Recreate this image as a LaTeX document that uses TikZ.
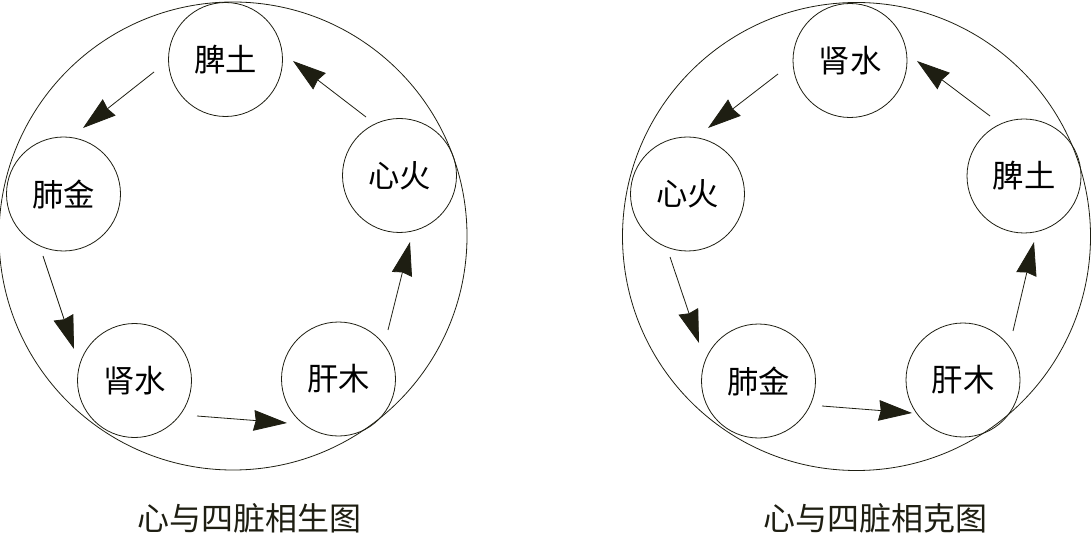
\documentclass[tikz,border=0pt]{standalone}
\usepackage{fontspec}
\setmainfont{Noto Sans CJK SC}
\usetikzlibrary{arrows.meta}
\definecolor{ink}{HTML}{1E1E12}
\tikzset{
  big/.style={draw=ink, line width=0.6pt, circle, minimum size=468*0.75pt, inner sep=0pt},
  organ/.style={draw=ink, line width=0.6pt, circle, minimum size=114*0.75pt, inner sep=0pt, font=\fontsize{23.5}{23.5}\selectfont},
  flow/.style={draw=ink, line width=0.6pt, -{Stealth[length=25pt, width=15.5pt, inset=1.5pt]}},
  caption/.style={font=\fontsize{24}{24}\selectfont, text=ink}
}
\begin{document}
\begin{tikzpicture}[x=0.75pt, y=-0.75pt]
\useasboundingbox (0,0) rectangle (1091,534);
% ---- left: 相生 ----
\node[big] (L) at (233,236) {};
\node[organ] (Lpi)  at (225.5,59.5) {脾土};
\node[organ] (Lxin) at (399.5,175.5) {心火};
\node[organ] (Lfei) at (63.5,194) {肺金};
\node[organ] (Lshen) at (134.5,380.5) {肾水};
\node[organ] (Lgan) at (338.5,379) {肝木};
\coordinate (a1s) at (154,72);  \coordinate (a1t) at (83,128);
\coordinate (a2s) at (366,117); \coordinate (a2t) at (293,61);
\coordinate (a3s) at (43,256);  \coordinate (a3t) at (74,349);
\coordinate (a4s) at (197,416); \coordinate (a4t) at (287,423);
\coordinate (a5s) at (388,330); \coordinate (a5t) at (410,242);
\draw[flow] (a1s) -- (a1t);
\draw[flow] (a2s) -- (a2t);
\draw[flow] (a3s) -- (a3t);
\draw[flow] (a4s) -- (a4t);
\draw[flow] (a5s) -- (a5t);
\node[caption] (Lcap) at (249,518) {心与四脏相生图};
% ---- right: 相克 ----
\node[big] (R) at (856.5,236.5) {};
\node[organ] (Rshen) at (850,60.5) {肾水};
\node[organ] (Rpi)   at (1024,176) {脾土};
\node[organ] (Rxin)  at (687.5,194) {心火};
\node[organ] (Rfei)  at (758.5,381) {肺金};
\node[organ] (Rgan)  at (963,380) {肝木};
\coordinate (b1s) at (778,74);   \coordinate (b1t) at (708,128);
\coordinate (b2s) at (990,116);  \coordinate (b2t) at (917,61);
\coordinate (b3s) at (670,257);  \coordinate (b3t) at (699,343);
\coordinate (b4s) at (822,406);  \coordinate (b4t) at (912,413);
\coordinate (b5s) at (1013,331); \coordinate (b5t) at (1034,242);
\draw[flow] (b1s) -- (b1t);
\draw[flow] (b2s) -- (b2t);
\draw[flow] (b3s) -- (b3t);
\draw[flow] (b4s) -- (b4t);
\draw[flow] (b5s) -- (b5t);
\node[caption] (Rcap) at (875,518) {心与四脏相克图};
\end{tikzpicture}
\end{document}
